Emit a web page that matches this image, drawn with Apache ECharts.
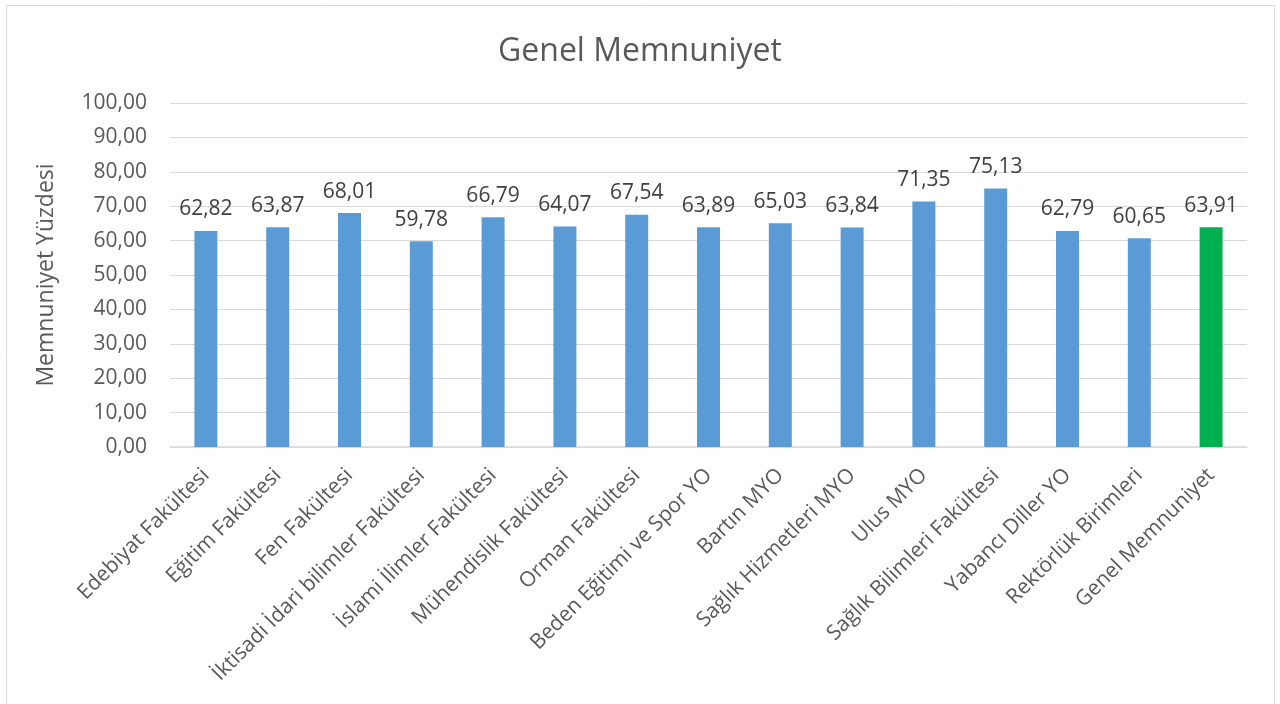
<!DOCTYPE html>
<html>
<head>
<meta charset="utf-8">
<script src="https://cdn.jsdelivr.net/npm/echarts@6/dist/echarts.min.js"></script>
<style>
html, body { margin: 0; padding: 0; background: #fff; }
#chart { width: 1280px; height: 704px; }
</style>
</head>
<body>
<div id="chart"></div>
<script>
// birimler
var birimler = ['Edebiyat Fakültesi', 'Eğitim Fakültesi', 'Fen Fakültesi', 'İktisadi İdari bilimler Fakültesi',
	'İslami İlimler Fakültesi', 'Mühendislik Fakültesi', 'Orman Fakültesi', 'Beden Eğitimi ve Spor YO',
	'Bartın MYO', 'Sağlık Hizmetleri MYO', 'Ulus MYO', 'Sağlık Bilimleri Fakültesi', 'Yabancı Diller YO',
	'Rektörlük Birimleri', 'Genel Memnuniyet'];
// memnuniyet yüzdeleri
var yuzdeler = [62.82, 63.87, 68.01, 59.78, 66.79, 64.07, 67.54, 63.89, 65.03, 63.84, 71.35, 75.13, 62.79, 60.65, 63.91];
var renkler = ['#5B9BD5', '#5B9BD5', '#5B9BD5', '#5B9BD5', '#5B9BD5', '#5B9BD5', '#5B9BD5', '#5B9BD5',
	'#5B9BD5', '#5B9BD5', '#5B9BD5', '#5B9BD5', '#5B9BD5', '#5B9BD5', '#00B050'];

function virgul(v) {
	return v.toFixed(2).replace('.', ',');
}

var chart = echarts.init(document.getElementById('chart'));
var yazi = '"Open Sans", "Noto Sans", sans-serif';

var veri = [];
for (var i = 0; i < yuzdeler.length; i++) {
	veri.push({ value: yuzdeler[i], itemStyle: { color: renkler[i] } });
}

var option = {
	animation: false,
	textStyle: { fontFamily: yazi },
	graphic: [{
		type: 'rect',
		shape: { x: 6.5, y: 5.5, width: 1268, height: 720 },
		style: { fill: 'none', stroke: '#D9D9D9', lineWidth: 1 },
		silent: true
	}],
	title: {
		text: 'Genel Memnuniyet',
		left: 'center',
		top: 31,
		textStyle: { fontFamily: yazi, fontSize: 32, fontWeight: 'normal', color: '#595959' }
	},
	grid: { left: 170, right: 33, top: 103, bottom: 257 },
	xAxis: {
		type: 'category',
		data: birimler,
		axisLine: { lineStyle: { color: '#D9D9D9', width: 1.5 } },
		axisTick: { show: false },
		axisLabel: {
			rotate: 45,
			interval: 0,
			margin: 25,
			fontFamily: yazi,
			fontSize: 21,
			color: '#595959'
		}
	},
	yAxis: {
		type: 'value',
		min: 0,
		max: 100,
		interval: 10,
		name: 'Memnuniyet Yüzdesi',
		nameLocation: 'middle',
		nameGap: 112,
		nameTextStyle: { fontFamily: yazi, fontSize: 23, color: '#595959' },
		axisLine: { show: false },
		axisTick: { show: false },
		splitLine: { lineStyle: { color: '#D9D9D9', width: 1 } },
		axisLabel: {
			fontFamily: yazi,
			fontSize: 21,
			color: '#595959',
			margin: 23,
			formatter: function (v) { return virgul(v); }
		}
	},
	series: [{
		type: 'bar',
		data: veri,
		barWidth: '32%',
		label: {
			show: true,
			position: 'top',
			distance: 11,
			fontFamily: yazi,
			fontSize: 21,
			color: '#404040',
			formatter: function (p) { return virgul(p.value); }
		}
	}]
};

chart.setOption(option);
</script>
</body>
</html>
